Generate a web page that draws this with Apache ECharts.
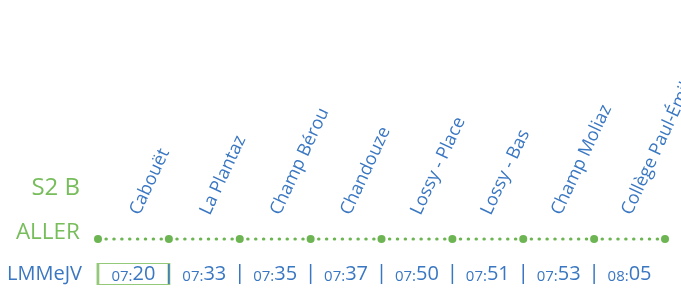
<!DOCTYPE html>
<html>
<head>
<meta charset="utf-8">
<script src="https://cdn.jsdelivr.net/npm/echarts@6/dist/echarts.min.js"></script>
<style>
  html, body { margin: 0; padding: 0; background: #fff; }
  #chart { width: 681px; height: 292px; }
</style>
</head>
<body>
<div id="chart"></div>
<script>
// arrêts et horaires de la ligne
const stops = ['Cabouët', 'La Plantaz', 'Champ Bérou', 'Chandouze', 'Lossy - Place', 'Lossy - Bas', 'Champ Moliaz', 'Collège Paul-Émile Victor'];
const times = ['07:20', '07:33', '07:35', '07:37', '07:50', '07:51', '07:53', '08:05'];
const currentStop = 0;
const lineName = 'S2 B';
const direction = 'ALLER';
const days = 'LMMeJV';

const green = '#6db553';
const textGreen = '#78bd5c';
const lightGreen = '#93c979';
const blue = '#3a77c2';
const font = '"Open Sans", sans-serif';

// points sur la ligne : une limite avant chaque arrêt + la dernière
const dots = stops.map((s, i) => [i, 0]).concat([[stops.length, 0]]);
const separators = stops.slice(1).map((s, i) => [i + 1, 0]);

const xAxes = [0, 1, 2].map(g => ({
  type: 'value', gridIndex: g, min: 0, max: stops.length, show: false
}));
const yAxes = [0, 1, 2].map(g => ({
  type: 'value', gridIndex: g, min: -1, max: 1, show: false
}));

const chart = echarts.init(document.getElementById('chart'));
chart.setOption({
  animation: false,
  grid: [
    { left: 99, width: 562, top: 208, height: 20 }, // noms des arrêts
    { left: 98, right: 16, top: 229, height: 20 },  // ligne pointillée
    { left: 98, right: 16, top: 264, height: 20 }   // horaires
  ],
  xAxis: xAxes,
  yAxis: yAxes,
  graphic: [
    { type: 'text', right: 601, top: 176, style: { text: lineName, fill: textGreen, font: '24px ' + font } },
    { type: 'text', right: 601, top: 221, style: { text: direction, fill: textGreen, font: '22.5px ' + font } },
    { type: 'text', left: 7, top: 264, style: { text: days, fill: blue, font: '20px ' + font } }
  ],
  series: [
    {
      type: 'scatter',
      xAxisIndex: 0, yAxisIndex: 0,
      silent: true,
      symbolSize: 1,
      itemStyle: { color: 'transparent', opacity: 1 },
      data: stops.map((s, i) => ({ name: s, value: [i + 0.5, 0] })),
      label: {
        show: true,
        formatter: '{b}',
        position: 'inside',
        align: 'left',
        verticalAlign: 'bottom',
        rotate: 65,
        offset: [4, 8],
        color: blue,
        opacity: 1,
        fontSize: 18,
        fontFamily: font
      }
    },
    {
      type: 'line',
      xAxisIndex: 1, yAxisIndex: 1,
      silent: true,
      data: dots,
      symbol: 'circle',
      symbolSize: 8,
      showSymbol: true,
      itemStyle: { color: green },
      lineStyle: { color: green, width: 3, type: [0.5, 7.375], cap: 'round' }
    },
    {
      type: 'scatter',
      xAxisIndex: 2, yAxisIndex: 2,
      silent: true,
      symbol: 'rect',
      symbolSize: [71, 21],
      itemStyle: { color: 'transparent', borderColor: lightGreen, borderWidth: 1.5, opacity: 1 },
      data: [[currentStop + 0.5, 0]]
    },
    {
      type: 'scatter',
      xAxisIndex: 2, yAxisIndex: 2,
      silent: true,
      symbol: 'rect',
      symbolSize: [1.5, 20],
      itemStyle: { color: blue, opacity: 1 },
      data: separators
    },
    {
      type: 'scatter',
      xAxisIndex: 2, yAxisIndex: 2,
      silent: true,
      symbolSize: 1,
      itemStyle: { color: 'transparent', opacity: 1 },
      data: times.map((t, i) => ({ name: t, value: [i + 0.5, 0] })),
      label: {
        show: true,
        position: 'inside',
        opacity: 1,
        formatter: p => {
          const parts = p.name.split(':');
          return '{h|' + parts[0] + ':}{m|' + parts[1] + '}';
        },
        rich: {
          h: { fontSize: 15, color: blue, fontFamily: font, verticalAlign: 'bottom' },
          m: { fontSize: 20, color: blue, fontFamily: font, verticalAlign: 'bottom' }
        }
      }
    }
  ]
});
</script>
</body>
</html>
